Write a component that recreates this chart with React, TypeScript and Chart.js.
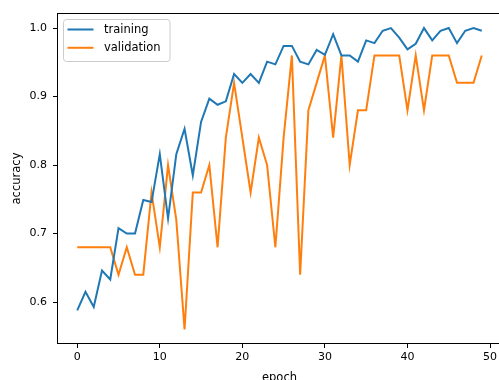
import React, { useEffect, useRef } from "react";
import { Chart, registerables } from "chart.js";

Chart.register(...registerables);

const trainingAcc = [
  0.588, 0.615, 0.593, 0.646, 0.633, 0.708, 0.7, 0.7, 0.749, 0.746,
  0.816, 0.722, 0.816, 0.853, 0.785, 0.863, 0.897, 0.888, 0.893, 0.933,
  0.92, 0.933, 0.92, 0.951, 0.947, 0.974, 0.974, 0.951, 0.947, 0.968,
  0.961, 0.991, 0.96, 0.96, 0.951, 0.982, 0.978, 0.996, 1.0, 0.986,
  0.969, 0.977, 1.0, 0.982, 0.996, 1.0, 0.978, 0.996, 1.0, 0.996,
];
const validationAcc = [
  0.68, 0.68, 0.68, 0.68, 0.68, 0.64, 0.68, 0.64, 0.64, 0.76,
  0.68, 0.8, 0.72, 0.56, 0.76, 0.76, 0.8, 0.68, 0.84, 0.92,
  0.84, 0.76, 0.84, 0.8, 0.68, 0.84, 0.96, 0.64, 0.88, 0.92,
  0.96, 0.84, 0.96, 0.8, 0.88, 0.88, 0.96, 0.96, 0.96, 0.96,
  0.88, 0.96, 0.88, 0.96, 0.96, 0.96, 0.92, 0.92, 0.92, 0.96,
];
const epochs = trainingAcc.map((_, i) => i);
const xTicks = [0, 10, 20, 30, 40, 50];
const yTicks = [0.6, 0.7, 0.8, 0.9, 1.0];
const seriesNames = ["training", "validation"];
const seriesColors = ["#1f77b4", "#ff7f0e"];
const xTitle = "epoch";
const yTitle = "accuracy";

const FONT = "'DejaVu Sans', sans-serif";
const CANVAS_W = 520;
const AREA_RIGHT = 502;

const framePlugin = {
  id: "frame",
  afterDatasetsDraw(chart: any) {
    const { ctx, chartArea } = chart;
    const { left, top, right, bottom } = chartArea;
    ctx.save();
    ctx.strokeStyle = "#000";
    ctx.lineWidth = 1;
    ctx.strokeRect(left + 0.5, top + 0.5, right - left - 1, bottom - top - 1);

    // legend
    const bx = 63.5, by = 19.5, bw = 106.5, bh = 42, r = 3;
    ctx.beginPath();
    ctx.moveTo(bx + r, by);
    ctx.lineTo(bx + bw - r, by);
    ctx.quadraticCurveTo(bx + bw, by, bx + bw, by + r);
    ctx.lineTo(bx + bw, by + bh - r);
    ctx.quadraticCurveTo(bx + bw, by + bh, bx + bw - r, by + bh);
    ctx.lineTo(bx + r, by + bh);
    ctx.quadraticCurveTo(bx, by + bh, bx, by + bh - r);
    ctx.lineTo(bx, by + r);
    ctx.quadraticCurveTo(bx, by, bx + r, by);
    ctx.closePath();
    ctx.fillStyle = "rgba(255,255,255,0.8)";
    ctx.fill();
    ctx.strokeStyle = "#cccccc";
    ctx.stroke();

    const rows = [29.5, 47.8];
    ctx.font = `11.5px ${FONT}`;
    ctx.textBaseline = "middle";
    ctx.textAlign = "left";
    seriesNames.forEach((name, i) => {
      ctx.beginPath();
      ctx.strokeStyle = seriesColors[i];
      ctx.lineWidth = 2;
      ctx.moveTo(67.5, rows[i]);
      ctx.lineTo(93.5, rows[i]);
      ctx.stroke();
      ctx.fillStyle = "#000";
      ctx.fillText(name, 104, rows[i] + 0.5);
    });

    // axis titles
    ctx.fillStyle = "#000";
    ctx.font = `11.5px ${FONT}`;
    ctx.textAlign = "center";
    ctx.textBaseline = "alphabetic";
    ctx.fillText(xTitle, (left + right) / 2, 380.5);
    ctx.save();
    ctx.translate(20, (top + bottom) / 2);
    ctx.rotate(-Math.PI / 2);
    ctx.fillText(yTitle, 0, 0);
    ctx.restore();
    ctx.restore();
  },
};

export default function App() {
  const ref = useRef<HTMLCanvasElement | null>(null);
  useEffect(() => {
    document.body.style.margin = "0";
    const canvas = ref.current!;
    const chart = new Chart(canvas, {
      type: "line",
      data: {
        datasets: [
          {
            label: seriesNames[0],
            data: epochs.map((e) => ({ x: e, y: trainingAcc[e] })),
            borderColor: seriesColors[0],
            backgroundColor: seriesColors[0],
            borderWidth: 2,
            pointRadius: 0,
            tension: 0,
          },
          {
            label: seriesNames[1],
            data: epochs.map((e) => ({ x: e, y: validationAcc[e] })),
            borderColor: seriesColors[1],
            backgroundColor: seriesColors[1],
            borderWidth: 2,
            pointRadius: 0,
            tension: 0,
          },
        ],
      },
      options: {
        animation: false,
        responsive: false,
        maintainAspectRatio: false,
        devicePixelRatio: 1,
        layout: { padding: { left: 0, top: 13, right: CANVAS_W - AREA_RIGHT, bottom: 0 } },
        plugins: {
          legend: { display: false },
          tooltip: { enabled: false },
        },
        scales: {
          x: {
            type: "linear",
            min: -2.45,
            max: 51.45,
            afterBuildTicks: (s: any) => {
              s.ticks = xTicks.map((v) => ({ value: v }));
            },
            afterFit: (s: any) => {
              s.height = 36;
            },
            grid: {
              display: true,
              drawOnChartArea: false,
              drawTicks: true,
              tickLength: 4,
              tickColor: "#000",
              color: "#000",
            },
            border: { display: false },
            ticks: {
              color: "#000",
              padding: 3,
              maxRotation: 0,
              font: { family: FONT, size: 11 },
              callback: (v: any) => String(v),
            },
          },
          y: {
            type: "linear",
            min: 0.5388,
            max: 1.022,
            afterBuildTicks: (s: any) => {
              s.ticks = yTicks.map((v) => ({ value: v }));
            },
            afterFit: (s: any) => {
              s.width = 57;
            },
            grid: {
              display: true,
              drawOnChartArea: false,
              drawTicks: true,
              tickLength: 4,
              tickColor: "#000",
              color: "#000",
            },
            border: { display: false },
            ticks: {
              color: "#000",
              padding: 6,
              font: { family: FONT, size: 11 },
              callback: (v: any) => Number(v).toFixed(1),
            },
          },
        },
      },
      plugins: [framePlugin],
    });
    return () => chart.destroy();
  }, []);
  return (
    <div style={{ position: "absolute", left: 0, top: 0, width: 499, height: 380, overflow: "hidden", background: "#fff" }}>
      <canvas ref={ref} width={CANVAS_W} height={380} style={{ display: "block", width: CANVAS_W, height: 380 }} />
    </div>
  );
}
